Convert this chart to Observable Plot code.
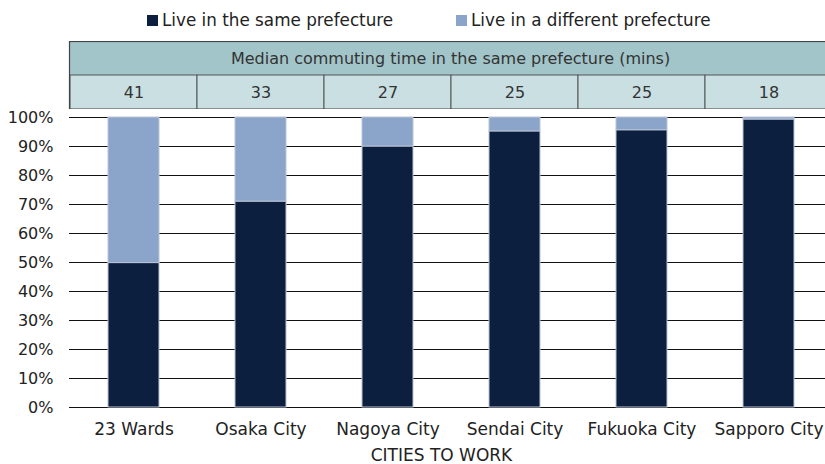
<!DOCTYPE html>
<html><head><meta charset="utf-8">
<script src="https://cdn.jsdelivr.net/npm/d3@7"></script>
<script src="https://cdn.jsdelivr.net/npm/@observablehq/plot@0.6"></script>
<style>
html,body{margin:0;padding:0;background:#fff;overflow:hidden;width:825px;height:464px}
#legend{height:41px;position:relative;font-family:"DejaVu Sans",sans-serif;font-size:16.8px;color:#222}
.li{position:absolute;top:10px;display:flex;align-items:center;gap:4px;white-space:nowrap}
.sw{width:11px;height:11px;display:inline-block}
svg{display:block;max-width:none !important;height:auto}
</style></head><body>
<div id="legend"></div>
<div id="header"></div>
<div id="chart"></div>
<script>
const cities = ["23 Wards","Osaka City","Nagoya City","Sendai City","Fukuoka City","Sapporo City"];
const sameShare = [49.8, 71.0, 90.0, 95.2, 95.6, 99.3];
const medianMins = [41, 33, 27, 25, 25, 18];
const seriesNames = ["Live in the same prefecture","Live in a different prefecture"];
const seriesColors = ["#0c1f3f","#8aa5c9"];
const headerTitle = "Median commuting time in the same prefecture (mins)";
const xTitle = "CITIES TO WORK";
const yTicks = [0,10,20,30,40,50,60,70,80,90,100];

// legend
const leg = document.getElementById("legend");
const legX = [147, 456];
seriesNames.forEach((n,i)=>{
  const d = document.createElement("div");
  d.className="li"; d.style.left = legX[i]+"px";
  d.innerHTML = `<span class="sw" style="background:${seriesColors[i]}"></span><span>${n}</span>`;
  leg.appendChild(d);
});

const W = 833, ML = 69;

// header table
const header = Plot.plot({
  width: W, height: 68, marginLeft: ML, marginRight: 0, marginTop: 0, marginBottom: 0,
  x: {domain: cities, padding: 0, axis: null},
  y: {domain: ["title","value"], padding: 0, axis: null},
  style: {fontFamily: "'DejaVu Sans', sans-serif"},
  marks: [
    Plot.cell(cities, {x: d=>d, y: ()=>"title", fill: "#a2c5ca", stroke: "#a2c5ca", strokeWidth: 1}),
    Plot.cell(cities, {x: d=>d, y: ()=>"value", fill: "#c9dfe2", stroke: "#555", strokeWidth: 1}),
    Plot.text([headerTitle], {frameAnchor: "top", lineAnchor: "middle", dy: 17, text: d=>d, fontSize: 16, fill: "#333", dx: -1}),
    Plot.text(cities, {x: d=>d, y: ()=>"value", text: (d,i)=>String(medianMins[i]), fontSize: 16, fill: "#333"}),
    Plot.frame({stroke: "#444", strokeWidth: 1.2})
  ]
});
document.getElementById("header").appendChild(header);

// main chart
const rows = [];
cities.forEach((c,i)=>{
  rows.push({city:c, type:seriesNames[0], value:sameShare[i]});
  rows.push({city:c, type:seriesNames[1], value:100-sameShare[i]});
});
const chart = Plot.plot({
  width: W, height: 355, marginLeft: ML, marginRight: 0, marginTop: 8, marginBottom: 57,
  x: {domain: cities, paddingInner: 0.6, paddingOuter: 0.3, label: null},
  y: {domain: [0,100], label: null},
  color: {domain: seriesNames, range: seriesColors},
  style: {fontFamily: "'DejaVu Sans', sans-serif", fontSize: "16px", color: "#222"},
  marks: [
    Plot.ruleY(yTicks, {stroke: "#111", strokeWidth: 1.2}),
    Plot.barY(rows, {x: "city", y: "value", fill: "type", stroke: "#b9c3d6", strokeWidth: 1}),
    Plot.axisY({ticks: yTicks, tickSize: 0, tickPadding: 16, tickFormat: d=>d+"%", fontSize: 16, label: null}),
    Plot.axisX({tickSize: 0, tickPadding: 15, fontSize: 17, style: {letterSpacing: "0.3px"}, label: null}),
    Plot.text([xTitle], {frameAnchor: "bottom", lineAnchor: "middle", dy: 48, dx: -10, text: d=>d, fontSize: 17, fill: "#222", style: {letterSpacing: "0.7px"}})
  ]
});
document.getElementById("chart").appendChild(chart);
</script>
</body></html>
